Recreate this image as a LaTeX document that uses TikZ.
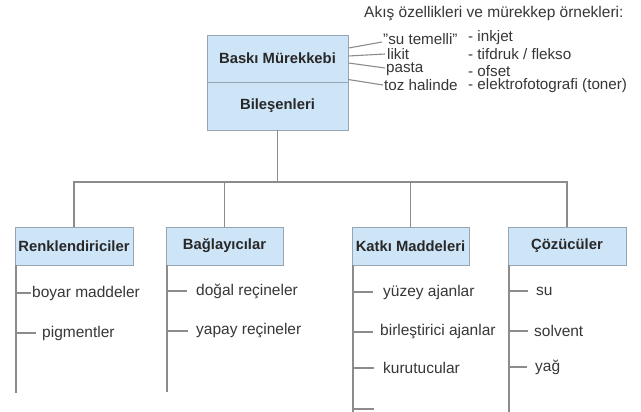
\documentclass[tikz,border=0pt]{standalone}
\usepackage{fontspec}
\setmainfont{Liberation Sans}
\definecolor{boxfill}{RGB}{206,228,247}
\definecolor{boxline}{RGB}{150,165,180}
\definecolor{conn}{RGB}{140,140,140}
\definecolor{txt}{RGB}{55,55,55}
\definecolor{btxt}{RGB}{40,40,40}
\tikzset{
  catbox/.style={draw=boxline, fill=boxfill, line width=0.9pt, inner sep=0pt,
     font=\fontsize{14.8}{16}\selectfont\bfseries, text=btxt, minimum height=38pt},
  mainbox/.style={draw=boxline, fill=boxfill, line width=0.9pt, inner sep=0pt,
     font=\fontsize{14.8}{16}\selectfont\bfseries, text=btxt, minimum width=141pt},
  item/.style={anchor=west, inner sep=0pt, font=\fontsize{15.5}{17}\selectfont, text=txt},
  flow/.style={anchor=west, inner sep=0pt, font=\fontsize{15.2}{16}\selectfont, text=txt},
  conline/.style={draw=conn, line width=1.4pt},
  thin/.style={draw=conn, line width=1.1pt}
}
\begin{document}
\begin{tikzpicture}[x=1pt,y=-1pt]
\useasboundingbox[fill=white] (0,0) rectangle (641,412);

% title
\node[item] (title) at (364,14) {Akış özellikleri ve mürekkep örnekleri:};

% main box
\node[mainbox, minimum height=47pt] (bm) at (277.5,58.5) {Baskı Mürekkebi};
\node[mainbox, minimum height=48pt] (bil) at (277.5,106) {Bileşenleri};

% flow properties
\node[flow] (f1) at (383,39) {"su temelli"};
\node[flow] (f2) at (387,54) {likit};
\node[flow] (f3) at (386,69) {pasta};
\node[flow] (f4) at (384,85) {toz halinde};
\node[flow] (e1) at (468,38) {- inkjet};
\node[flow] (e2) at (468,54) {- tifdruk / flekso};
\node[flow] (e3) at (468,71) {- ofset};
\node[flow] (e4) at (468,86) {- elektrofotografi (toner)};

\draw[thin] ([yshift=10.5pt]bm.east) -- ([xshift=-1pt,yshift=-3pt]f1.west);
\draw[thin] ([yshift=2.5pt]bm.east) -- ([xshift=-2pt]f2.west);
\draw[thin] ([yshift=-4.5pt]bm.east) -- ([xshift=-1pt,yshift=1pt]f3.west);
\draw[thin] ([yshift=2pt]bil.north east) -- ([xshift=-1pt]f4.west);

% categories
\node[catbox, minimum width=118pt] (ren) at (74,246) {Renklendiriciler};
\node[catbox, minimum width=117pt] (bag) at (224.5,246) {Bağlayıcılar};
\node[catbox, minimum width=117pt] (kat) at (410.5,246) {Katkı Maddeleri};
\node[catbox, minimum width=118pt] (coz) at (567,246) {Çözücüler};

\coordinate (bar) at (0,182);
\foreach \c in {ren,bag,kat,coz}{
  \draw[conline] (bil.south) -- (bil.south |- bar) -| (\c.north);
}

% vertical lines
\coordinate (rl) at (16,0);
\coordinate (bl) at (167,0);
\coordinate (kl) at (353,0);
\coordinate (cl) at (509,0);
\coordinate (rend) at (16,393);
\coordinate (bend) at (167,392);
\coordinate (kend) at (353,416);
\coordinate (cend) at (509,416);
\draw[conline] (ren.south -| rl) -- (rend);
\draw[conline] (bag.south -| bl) -- (bend);
\draw[conline] (kat.south -| kl) -- (kend);
\draw[conline] (coz.south -| cl) -- (cend);

% items
\node[item] (r1) at (32,293) {boyar maddeler};
\node[item] (r2) at (42,333) {pigmentler};
\node[item] (b1) at (196,291) {doğal reçineler};
\node[item] (b2) at (196,331) {yapay reçineler};
\node[item] (k1) at (383,292) {yüzey ajanlar};
\node[item] (k2) at (380,332) {birleştirici ajanlar};
\node[item] (k3) at (383,368) {kurutucular};
\node[item] (k4) at (381,414) {...};
\node[item] (c1) at (536,291) {su};
\node[item] (c2) at (534,331) {solvent};
\node[item] (c3) at (535,367) {yağ};

\draw[thin] (r1.west -| rl) -- ([xshift=-1pt]r1.west);
\draw[thin] (r2.west -| rl) -- ([xshift=-6pt]r2.west);
\draw[thin] (b1.west -| bl) -- ([xshift=-9pt]b1.west);
\draw[thin] (b2.west -| bl) -- ([xshift=-8pt]b2.west);
\draw[thin] (k1.west -| kl) -- ([xshift=-10pt]k1.west);
\draw[thin] (k2.west -| kl) -- ([xshift=-7pt]k2.west);
\draw[thin] (k3.west -| kl) -- ([xshift=-9pt]k3.west);
\coordinate (k4t) at (374,409);
\draw[thin] (k4t -| kl) -- (k4t);
\draw[thin] (c1.west -| cl) -- ([xshift=-8pt]c1.west);
\draw[thin] (c2.west -| cl) -- ([xshift=-6pt]c2.west);
\draw[thin] (c3.west -| cl) -- ([xshift=-8pt]c3.west);
\end{tikzpicture}
\end{document}
